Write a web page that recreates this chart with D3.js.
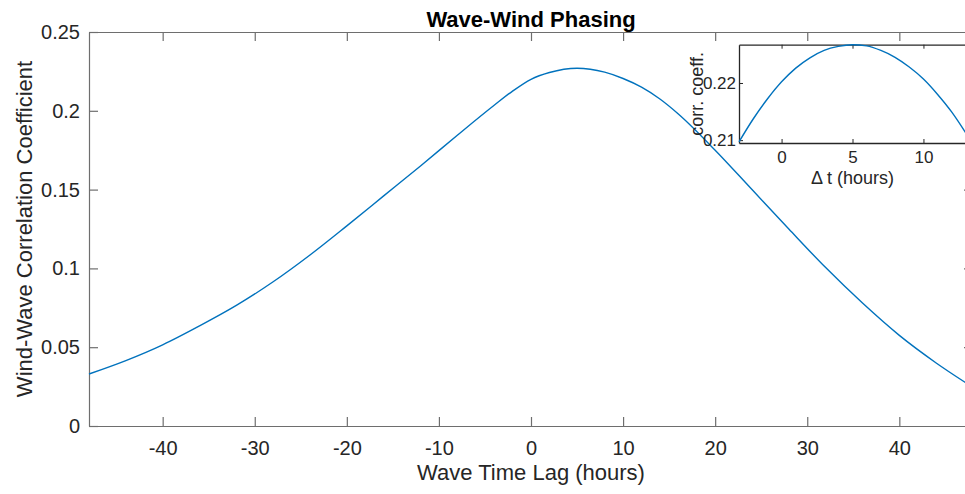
<!DOCTYPE html>
<html>
<head>
<meta charset="utf-8">
<script src="https://cdn.jsdelivr.net/npm/d3@7"></script>
<style>
  body { margin: 0; background: #fff; }
  svg { display: block; font-family: "Liberation Sans", Arial, Helvetica, sans-serif; }
</style>
</head>
<body>
<svg width="965" height="494"></svg>
<script>
// main curve: wave time lag (hours) vs correlation coefficient
var lagHours = [-48, -44, -40, -36, -32, -28, -24, -20, -16, -12, -8, -4, -2, 0, 2, 5, 8, 10, 12, 14, 16, 20, 24, 28, 32, 36, 40, 44, 48];
var corrValues = [0.0330, 0.0415, 0.0515, 0.0635, 0.0765, 0.0915, 0.1085, 0.1270, 0.1460, 0.1650, 0.1845, 0.2035, 0.2125, 0.2200, 0.2243, 0.2270, 0.2245, 0.2205, 0.2150, 0.2075, 0.1980, 0.1750, 0.1500, 0.1250, 0.1005, 0.0780, 0.0575, 0.0400, 0.0245];
var xTicks = [-40, -30, -20, -10, 0, 10, 20, 30, 40];
var yTicks = [0, 0.05, 0.1, 0.15, 0.2, 0.25];

// inset: zoom on the peak
var insetHours = [-3, -2, -1, 0, 1, 2, 3, 4, 5, 6, 7, 8, 9, 10, 11, 12, 13];
var insetValues = [0.2097, 0.2137, 0.2172, 0.2202, 0.2226, 0.2244, 0.2257, 0.2264, 0.2267, 0.2265, 0.2257, 0.2245, 0.2228, 0.2207, 0.2180, 0.2149, 0.2112];
var insetXTicks = [0, 5, 10];
var insetYTicks = [0.21, 0.22];

var svg = d3.select("svg");
var blue = "#0072BD";

///////////////////// MAIN AXES ////////////////////
var mLeft = 89, mRight = 973, mTop = 32, mBottom = 426;

var x = d3.scaleLinear().domain([-48, 48]).range([mLeft, mRight]);
var y = d3.scaleLinear().domain([0, 0.25]).range([mBottom, mTop]);

function fmt(d) { return d === 0 ? "0" : String(+d.toFixed(2)); }

function styleAxis(g) {
    g.select(".domain").attr("stroke", "#6e6e6e").attr("stroke-width", 1.2);
    g.selectAll(".tick line").attr("stroke", "#6e6e6e").attr("stroke-width", 1.2);
    g.selectAll(".tick text").attr("fill", "#262626").style("font-size", "20px");
    g.attr("font-family", null).attr("font-size", null);
}

svg.append("g")
    .attr("transform", "translate(0," + mBottom + ")")
    .call(d3.axisBottom(x).tickValues(xTicks).tickSize(-9).tickPadding(15).tickSizeOuter(0).tickFormat(fmt))
    .call(styleAxis);

svg.append("g")
    .attr("transform", "translate(" + mLeft + ",0)")
    .call(d3.axisLeft(y).tickValues(yTicks).tickSize(-9).tickPadding(9).tickSizeOuter(0).tickFormat(fmt))
    .call(styleAxis);

svg.append("g")
    .attr("transform", "translate(0," + mTop + ")")
    .call(d3.axisTop(x).tickValues(xTicks).tickSize(-9).tickFormat("").tickSizeOuter(0))
    .call(styleAxis);

svg.append("g")
    .attr("transform", "translate(" + mRight + ",0)")
    .call(d3.axisRight(y).tickValues(yTicks).tickSize(-9).tickFormat("").tickSizeOuter(0))
    .call(styleAxis);

var line = d3.line()
    .x(function(d, i) { return x(lagHours[i]); })
    .y(function(d) { return y(d); })
    .curve(d3.curveMonotoneX);

svg.append("path")
    .datum(corrValues)
    .attr("fill", "none")
    .attr("stroke", blue)
    .attr("stroke-width", 1.4)
    .attr("d", line);

svg.append("text")
    .attr("text-anchor", "middle")
    .attr("transform", "translate(" + (mLeft + mRight) / 2 + ",27)")
    .style("font-size", "22px")
    .style("font-weight", "bold")
    .attr("fill", "#000")
    .text("Wave-Wind Phasing");

svg.append("text")
    .attr("text-anchor", "middle")
    .attr("transform", "translate(" + (mLeft + mRight) / 2 + ",480)")
    .style("font-size", "22px")
    .attr("fill", "#262626")
    .text("Wave Time Lag (hours)");

svg.append("text")
    .attr("text-anchor", "middle")
    .attr("transform", "translate(32," + (mTop + mBottom) / 2 + ")rotate(-90)")
    .style("font-size", "22px")
    .attr("fill", "#262626")
    .text("Wind-Wave Correlation Coefficient");

///////////////////// INSET ////////////////////
var iLeft = 739, iRight = 966, iTop = 44.7, iBottom = 143;

var xi = d3.scaleLinear().domain([-3, 13]).range([iLeft, iRight]);
var yi = d3.scaleLinear().domain([0.2095, 0.2267]).range([iBottom, iTop]);

svg.append("rect")
    .attr("x", iLeft).attr("y", iTop)
    .attr("width", iRight - iLeft).attr("height", iBottom - iTop)
    .attr("fill", "#fff");

function styleInset(g) {
    g.select(".domain").attr("stroke", "#262626").attr("stroke-width", 1.3);
    g.selectAll(".tick line").attr("stroke", "#262626").attr("stroke-width", 1);
    g.selectAll(".tick text").attr("fill", "#262626").style("font-size", "17px");
    g.attr("font-family", null).attr("font-size", null);
}

svg.append("g")
    .attr("transform", "translate(0," + iBottom + ")")
    .call(d3.axisBottom(xi).tickValues(insetXTicks).tickSize(-4).tickPadding(8).tickSizeOuter(0).tickFormat(fmt))
    .call(styleInset);

svg.append("g")
    .attr("transform", "translate(" + iLeft + ",0)")
    .call(d3.axisLeft(yi).tickValues(insetYTicks).tickSize(-4).tickPadding(3).tickSizeOuter(0)
        .tickFormat(d3.format(".2f")))
    .call(styleInset);

svg.append("g")
    .attr("transform", "translate(0," + iTop + ")")
    .call(d3.axisTop(xi).tickValues(insetXTicks).tickSize(-4).tickFormat("").tickSizeOuter(0))
    .call(styleInset);

var insetLine = d3.line()
    .x(function(d, i) { return xi(insetHours[i]); })
    .y(function(d) { return yi(d); })
    .curve(d3.curveMonotoneX);

svg.append("path")
    .datum(insetValues)
    .attr("fill", "none")
    .attr("stroke", blue)
    .attr("stroke-width", 1.4)
    .attr("d", insetLine);

svg.append("text")
    .attr("text-anchor", "middle")
    .attr("transform", "translate(" + xi(5) + ",184)")
    .style("font-size", "18px")
    .attr("fill", "#262626")
    .text("\u0394 t (hours)");

svg.append("text")
    .attr("text-anchor", "middle")
    .attr("transform", "translate(703," + (iTop + iBottom) / 2 + ")rotate(-90)")
    .style("font-size", "18px")
    .attr("fill", "#262626")
    .text("corr. coeff.");
</script>
</body>
</html>
